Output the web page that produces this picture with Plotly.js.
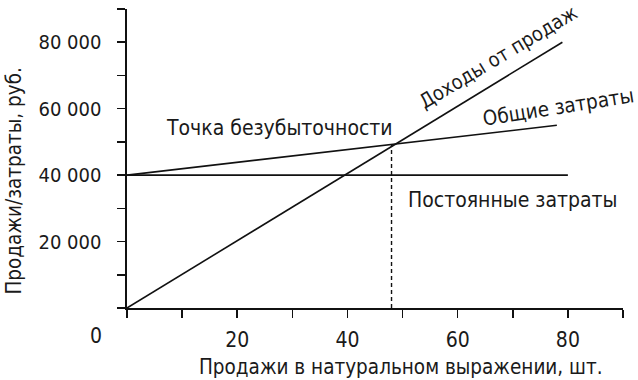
<!DOCTYPE html>
<html>
<head>
<meta charset="utf-8">
<script src="https://cdn.plot.ly/plotly-3.0.1.min.js"></script>
<style>html,body{margin:0;padding:0;background:#fff;}#chart{width:638px;height:380px;}</style>
</head>
<body>
<div id="chart"></div>
<script>
// Data
const revenueX = [0, 79];
const revenueY = [0, 80000];
const totalCostX = [0, 78];
const totalCostY = [40000, 55000];
const fixedCostX = [0, 80];
const fixedCostY = [40000, 40000];
const breakEvenX = [48, 48];
const breakEvenY = [0, 49300];

const xTickVals = [0, 10, 20, 30, 40, 50, 60, 70, 80, 90];
const xTickText = ['', '', '20', '', '40', '', '60', '', '80', ''];
const yTickVals = [0, 10000, 20000, 30000, 40000, 50000, 60000, 70000, 80000, 90000];
const yTickText = ['', '', '20 000', '', '40 000', '', '60 000', '', '80 000', ''];

const labelRevenue = 'Доходы от продаж';
const labelTotal = 'Общие затраты';
const labelFixed = 'Постоянные затраты';
const labelBreakEven = 'Точка безубыточности';
const xTitle = 'Продажи в натуральном выражении, шт.';
const yTitle = 'Продажи/затраты, руб.';

const FONT = '"DejaVu Sans Condensed", "Liberation Sans Narrow", sans-serif';
const TXT = '#1a1a1a';
const LINE = '#111';

const traces = [
  {x: revenueX, y: revenueY, mode: 'lines', line: {color: LINE, width: 1.6}, hoverinfo: 'skip'},
  {x: totalCostX, y: totalCostY, mode: 'lines', line: {color: LINE, width: 1.6}, hoverinfo: 'skip'},
  {x: fixedCostX, y: fixedCostY, mode: 'lines', line: {color: LINE, width: 1.6}, hoverinfo: 'skip'},
  {x: breakEvenX, y: breakEvenY, mode: 'lines', line: {color: LINE, width: 1.4, dash: '4px,3px'}, hoverinfo: 'skip'}
];

const ann = (text, x, y, angle, size) => ({
  text: text, xref: 'paper', yref: 'paper', x: x, y: y, showarrow: false,
  textangle: angle, xanchor: 'center', yanchor: 'middle',
  font: {family: FONT, size: size, color: TXT}
});

const layout = {
  width: 638, height: 380,
  margin: {l: 127, r: 15, t: 9, b: 72},
  paper_bgcolor: '#fff', plot_bgcolor: '#fff',
  showlegend: false,
  font: {family: FONT, size: 21, color: TXT},
  xaxis: {
    range: [0, 90], showgrid: false, zeroline: false,
    showline: true, linecolor: LINE, linewidth: 1.6,
    ticks: 'outside', ticklen: 8, tickwidth: 1.6, tickcolor: LINE,
    tickvals: xTickVals, ticktext: xTickText, ticklabelstandoff: 4,
    tickfont: {family: FONT, size: 21, color: TXT}
  },
  yaxis: {
    range: [0, 90000], showgrid: false, zeroline: false,
    showline: true, linecolor: LINE, linewidth: 1.6,
    ticks: 'outside', ticklen: 8, tickwidth: 1.6, tickcolor: LINE,
    tickvals: yTickVals, ticktext: yTickText, ticklabelstandoff: 12,
    tickfont: {family: FONT, size: 20, color: TXT}
  },
  annotations: [
    ann(labelRevenue, 0.748, 0.84, -31, 20),
    ann(labelTotal, 0.869, 0.673, -9, 20.5),
    ann(labelBreakEven, 0.307, 0.603, 0, 21),
    ann(labelFixed, 0.777, 0.362, 0, 21),
    ann('0', -0.062, -0.095, 0, 21),
    ann(xTitle, 0.553, -0.197, 0, 20.5),
    ann(yTitle, -0.228, 0.426, -90, 20.5)
  ]
};

Plotly.newPlot('chart', traces, layout, {displayModeBar: false, staticPlot: true});
</script>
</body>
</html>
